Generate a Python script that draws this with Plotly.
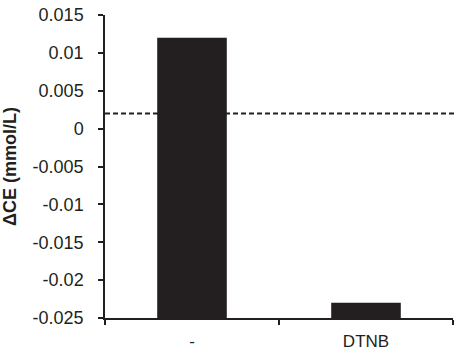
import plotly.graph_objects as go

categories = ["-", "DTNB"]
values = [0.012, -0.023]
baseline = -0.025
threshold = 0.002
y_ticks = [0.015, 0.01, 0.005, 0, -0.005, -0.01, -0.015, -0.02, -0.025]
y_tick_text = ["0.015", "0.01", "0.005", "0", "-0.005", "-0.01", "-0.015", "-0.02", "-0.025"]

fig = go.Figure()
fig.add_trace(go.Bar(
    x=categories,
    y=[v - baseline for v in values],
    base=baseline,
    marker=dict(color="#231f20", line=dict(width=0)),
    width=0.4,
))
fig.add_shape(type="line", xref="paper", yref="y", x0=0, x1=1.01, y0=threshold, y1=threshold,
              line=dict(color="#231f20", width=2, dash="5px,3px"))

fig.update_layout(
    width=457, height=358,
    margin=dict(l=105, r=4, t=15, b=40),
    plot_bgcolor="white", paper_bgcolor="white",
    showlegend=False,
    font=dict(family="Liberation Sans, Arial, sans-serif", color="#231f20", size=16),
)
fig.update_xaxes(
    type="category", range=[-0.5, 1.5], automargin=False,
    showline=True, linecolor="#231f20", linewidth=1.5,
    ticks="outside", tickson="boundaries", ticklen=5, tickcolor="#231f20", tickwidth=1.5,
    showgrid=False, tickfont=dict(size=17), ticklabelstandoff=7,
)
fig.update_yaxes(
    range=[-0.025, 0.015], tickvals=y_ticks, ticktext=y_tick_text, automargin=False,
    ticklabeloverflow="allow",
    showline=True, linecolor="#231f20", linewidth=1.5,
    ticks="outside", ticklen=5, tickcolor="#231f20", tickwidth=1.5,
    showgrid=False, zeroline=False, tickfont=dict(size=18), ticklabelstandoff=11,
    title=dict(text="<b>ΔCE (mmol/L)</b>", font=dict(size=18), standoff=14),
)
fig.write_html("out.html", config={"displayModeBar": False},
               post_script="document.body.style.margin='0';")
